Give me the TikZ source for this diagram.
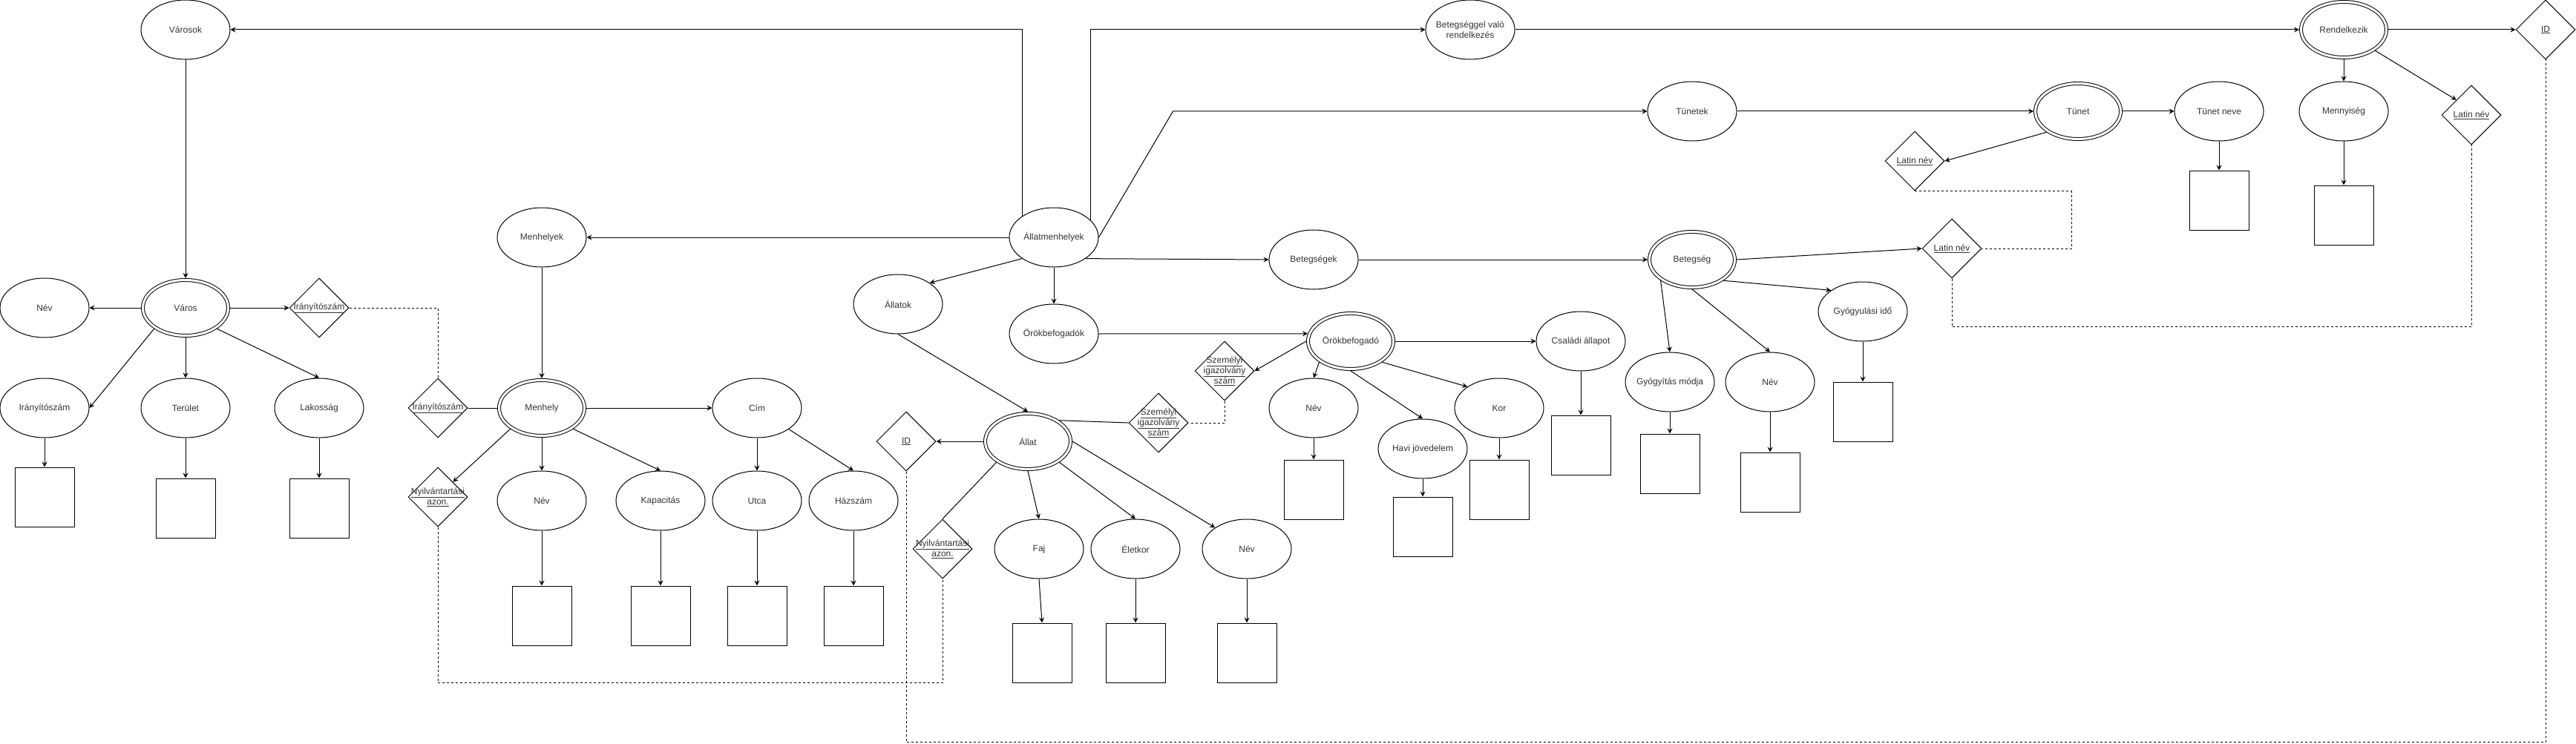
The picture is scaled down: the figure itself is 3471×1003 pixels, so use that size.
\documentclass[tikz,border=0pt]{standalone}
\usepackage{fontspec}
\setmainfont{Liberation Sans}
\usetikzlibrary{shapes.geometric,arrows.meta}

\tikzset{
  every node/.style={font=\fontsize{12}{14}\selectfont, text=black!80},
  attr/.style={ellipse, draw, line width=1pt, minimum width=120pt,
    minimum height=80pt, inner sep=0pt, inner xsep=-12pt, align=center},
  entity/.style={ellipse, draw, line width=1pt, double, double distance=3pt,
    minimum width=115pt, minimum height=75pt, inner sep=0pt, outer sep=2.5pt},
  keyattr/.style={diamond, draw, line width=1pt, minimum width=80pt,
    minimum height=80pt, inner sep=0pt},
  keytxt/.style={align=center, inner sep=0pt},
  valbox/.style={draw, line width=1pt, minimum width=80pt, minimum height=80pt,
    inner sep=0pt},
  arr/.style={line width=1pt, -{Stealth[length=7pt,width=7pt,inset=2.5pt]}},
  link/.style={line width=1pt},
  ref/.style={line width=1pt, dash pattern=on 3pt off 3pt}
}

\begin{document}
\begin{tikzpicture}[x=1pt,y=-1pt]
    \useasboundingbox (0,0) rectangle (3471,1003);

    % Varos
    \node[attr] (varosok) at (250,40) {Városok};
    \node[entity] (varos) at (250,415) {Város};
    \node[attr] (varosnev) at (60,415) {Név};
    \node[keyattr, label={[keytxt]center:\underline{Irányítószám}}] (varosirsz) at (430,415) {};
    \node[attr] (irsz) at (60,550) {Irányítószám};
    \node[attr] (terulet) at (250,550) {Terület};
    \node[attr] (lakossag) at (430,550) {Lakosság};
    \node[valbox] (irsz-val) at (60,670) {};
    \node[valbox] (terulet-val) at (250,685) {};
    \node[valbox] (lakossag-val) at (430,685) {};

    % Menhely
    \node[attr] (menhelyek) at (730,320) {Menhelyek};
    \node[entity] (menhely) at (730,550) {Menhely};
    \node[keyattr, label={[keytxt]center:\underline{Irányítószám}}] (menhirsz) at (590,550) {};
    \node[keyattr, label={[keytxt]center:\underline{Nyilvántartási}\\\underline{azon.}}] (menhnyilv) at (590,670) {};
    \node[attr] (menhnev) at (730,675) {Név};
    \node[attr] (kapacitas) at (890,675) {Kapacitás};
    \node[attr] (cim) at (1020,550) {Cím};
    \node[attr] (utca) at (1020,675) {Utca};
    \node[attr] (hazszam) at (1150,675) {Házszám};
    \node[valbox] (menhnev-val) at (730,830) {};
    \node[valbox] (kapacitas-val) at (890,830) {};
    \node[valbox] (utca-val) at (1020,830) {};
    \node[valbox] (hazszam-val) at (1150,830) {};

    % Allatmenhelyek
    \node[attr] (amh) at (1420,320) {Állatmenhelyek};
    \node[attr] (allatok) at (1210,410) {Állatok};
    \node[attr] (orokbs) at (1420,450) {Örökbefogadók};
    \node[attr] (betegsegek) at (1770,350) {Betegségek};
    \node[attr] (betrend) at (1981,40) {Betegséggel való\\rendelkezés};
    \node[attr] (tunetek) at (2280,150) {Tünetek};

    % Allat
    \node[entity] (allat) at (1385,595) {Állat};
    \node[keyattr, label={[keytxt]center:\underline{ID}}] (allatid) at (1221,595) {};
    \node[keyattr, label={[keytxt]center:\underline{Nyilvántartási}\\\underline{azon.}}] (allatnyilv) at (1270,740) {};
    \node[keyattr, label={[keytxt]center:\underline{Személyi}\\\underline{igazolvány}\\\underline{szám}}] (allatszem) at (1561,570) {};
    \node[attr] (faj) at (1400,740) {Faj};
    \node[attr] (eletkor) at (1530,740) {Életkor};
    \node[attr] (allatnev) at (1680,740) {Név};
    \node[valbox] (faj-val) at (1404,880) {};
    \node[valbox] (eletkor-val) at (1530,880) {};
    \node[valbox] (allatnev-val) at (1680,880) {};

    % Orokbefogado
    \node[entity] (orokb) at (1820,460) {Örökbefogadó};
    \node[keyattr, label={[keytxt]center:\underline{Személyi}\\\underline{igazolvány}\\\underline{szám}}] (orokbszem) at (1650,500) {};
    \node[attr] (orokbnev) at (1770,550) {Név};
    \node[attr] (havi) at (1917,605) {Havi jövedelem};
    \node[attr] (kor) at (2020,550) {Kor};
    \node[attr] (csaladi) at (2130,460) {Családi állapot};
    \node[valbox] (orokbnev-val) at (1770,660) {};
    \node[valbox] (havi-val) at (1917,710) {};
    \node[valbox] (kor-val) at (2020,660) {};
    \node[valbox] (csaladi-val) at (2130,600) {};

    % Betegseg
    \node[entity] (betegseg) at (2280,350) {Betegség};
    \node[attr] (gyogymod) at (2250,515) {Gyógyítás módja};
    \node[attr] (betnev) at (2385,515) {Név};
    \node[attr] (gyogyido) at (2510,420) {Gyógyulási idő};
    \node[keyattr, label={[keytxt]center:\underline{Latin név}}] (betlatin) at (2630,335) {};
    \node[valbox] (gyogymod-val) at (2250,625) {};
    \node[valbox] (betnev-val) at (2385,650) {};
    \node[valbox] (gyogyido-val) at (2510,555) {};

    % Tunet
    \node[entity] (tunet) at (2800,150) {Tünet};
    \node[keyattr, label={[keytxt]center:\underline{Latin név}}] (tunetlatin) at (2580,217) {};
    \node[attr] (tunetnev) at (2990,150) {Tünet neve};
    \node[valbox] (tunetnev-val) at (2990,270) {};

    % Rendelkezik
    \node[entity] (rendelkezik) at (3158,40) {Rendelkezik};
    \node[keyattr, label={[keytxt]center:\underline{ID}}] (rendid) at (3430,40) {};
    \node[attr] (mennyiseg) at (3158,150) {Mennyiség};
    \node[keyattr, label={[keytxt]center:\underline{Latin név}}] (rendlatin) at (3330,155) {};
    \node[valbox] (mennyiseg-val) at (3158,290) {};

    % connectors
    \draw[arr] (varosok) -- (varos);
    \draw[arr] (varos) -- (varosnev);
    \draw[arr] (varos) -- (varosirsz);
    \draw[arr] (varos.south west) -- (irsz.east);
    \draw[arr] (varos) -- (terulet);
    \draw[arr] (varos.south east) -- (lakossag.north);
    \draw[arr] (irsz) -- (irsz-val);
    \draw[arr] (terulet) -- (terulet-val);
    \draw[arr] (lakossag) -- (lakossag-val);

    \draw[arr] (amh.north west) |- (varosok.east);
    \draw[arr] (amh.25) |- (betrend.west);
    \draw[arr] (amh.east) -- ++(100,-170) -- (tunetek.west);
    \draw[arr] (amh) -- (menhelyek);
    \draw[arr] (amh.south west) -- (allatok.north east);
    \draw[arr] (amh) -- (orokbs);
    \draw[arr] (amh.south east) -- (betegsegek.west);

    \draw[arr] (menhelyek) -- (menhely);
    \draw[link] (menhirsz) -- (menhely);
    \draw[arr] (menhely.south west) -- (menhnyilv.north east);
    \draw[arr] (menhely) -- (menhnev);
    \draw[arr] (menhely.south east) -- (kapacitas.north);
    \draw[arr] (menhely) -- (cim);
    \draw[arr] (cim) -- (utca);
    \draw[arr] (cim.south east) -- (hazszam.north);
    \draw[arr] (menhnev) -- (menhnev-val);
    \draw[arr] (kapacitas) -- (kapacitas-val);
    \draw[arr] (utca) -- (utca-val);
    \draw[arr] (hazszam) -- (hazszam-val);

    \draw[arr] (allatok.south) -- (allat.north);
    \draw[arr] (allat) -- (allatid);
    \draw[link] (allat.south west) -- (allatnyilv.north);
    \draw[link] (allat.north east) -- (allatszem.west);
    \draw[arr] (allat.south) -- (faj.north);
    \draw[arr] (allat.south east) -- (eletkor.north);
    \draw[arr] (allat.east) -- (allatnev.north west);
    \draw[arr] (faj.south) -- (faj-val.north);
    \draw[arr] (eletkor) -- (eletkor-val);
    \draw[arr] (allatnev) -- (allatnev-val);

    \draw[arr] (orokbs.east) -- (orokb.170);
    \draw[arr] (orokb.west) -- (orokbszem.east);
    \draw[arr] (orokb.south west) -- (orokbnev.north);
    \draw[arr] (orokb.south) -- (havi.north);
    \draw[arr] (orokb.south east) -- (kor.north west);
    \draw[arr] (orokb) -- (csaladi);
    \draw[arr] (orokbnev) -- (orokbnev-val);
    \draw[arr] (havi) -- (havi-val);
    \draw[arr] (kor) -- (kor-val);
    \draw[arr] (csaladi) -- (csaladi-val);

    \draw[arr] (betegsegek) -- (betegseg);
    \draw[arr] (betegseg.south west) -- (gyogymod.north);
    \draw[arr] (betegseg.south) -- (betnev.north);
    \draw[arr] (betegseg.south east) -- (gyogyido.north west);
    \draw[arr] (betegseg.east) -- (betlatin.west);
    \draw[arr] (gyogymod) -- (gyogymod-val);
    \draw[arr] (betnev) -- (betnev-val);
    \draw[arr] (gyogyido) -- (gyogyido-val);

    \draw[arr] (tunetek) -- (tunet);
    \draw[arr] (tunet) -- (tunetnev);
    \draw[arr] (tunet.south west) -- (tunetlatin.east);
    \draw[arr] (tunetnev) -- (tunetnev-val);

    \draw[arr] (betrend) -- (rendelkezik);
    \draw[arr] (rendelkezik) -- (rendid);
    \draw[arr] (rendelkezik) -- (mennyiseg);
    \draw[arr] (rendelkezik.south east) -- (rendlatin.north west);
    \draw[arr] (mennyiseg) -- (mennyiseg-val);

    % foreign keys
    \draw[ref] (varosirsz.east) -| (menhirsz.north);
    \draw[ref] (menhnyilv.south) -- ++(0,210) -| (allatnyilv.south);
    \draw[ref] (allatid.south) -- ++(0,365) -| (rendid.south);
    \draw[ref] (orokbszem.south) |- (allatszem.east);
    \draw[ref] (tunetlatin.south) -- ++(211,0) |- (betlatin.east);
    \draw[ref] (betlatin.south) -- ++(0,65) -| (rendlatin.south);

\end{tikzpicture}
\end{document}
